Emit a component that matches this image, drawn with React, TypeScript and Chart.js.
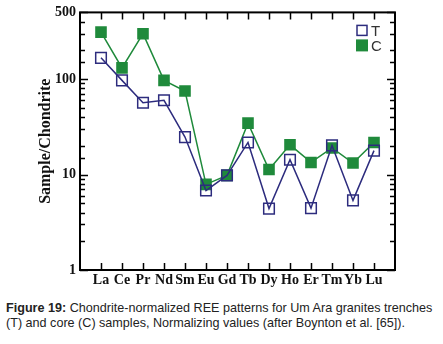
import React, { useEffect, useRef } from 'react';
import { Chart, registerables } from 'chart.js';
Chart.register(...registerables);

const elements = ['La', 'Ce', 'Pr', 'Nd', 'Sm', 'Eu', 'Gd', 'Tb', 'Dy', 'Ho', 'Er', 'Tm', 'Yb', 'Lu'];
const trenchValues = [167, 97, 56.6, 60, 24.7, 6.8, 9.8, 21.7, 4.4, 14.3, 4.45, 20.2, 5.36, 17.8];
const coreValues = [311, 131, 299, 97, 75, 7.9, 9.8, 34.6, 11.3, 20.5, 13.4, 19, 13.2, 21.7];
const yTickLabels = [1, 10, 100, 500];
const seriesNames = ['T', 'C'];

const BLUE = '#2d2c7e';
const GREEN = '#1f8a3b';

const framePlugin = {
  id: 'frame',
  afterDraw(chart: any) {
    const { ctx, chartArea } = chart;
    const { left, right, top, bottom } = chartArea;
    const xs = chart.scales.x;
    const ys = chart.scales.y;
    ctx.save();
    ctx.strokeStyle = '#000';
    ctx.lineWidth = 1.5;
    ctx.beginPath();
    ys.ticks.forEach((t: any) => {
      const y = Math.round(ys.getPixelForValue(t.value)) + 0.5;
      const len = yTickLabels.includes(t.value) ? 8 : 5;
      ctx.moveTo(left, y);
      ctx.lineTo(left + len, y);
      ctx.moveTo(right, y);
      ctx.lineTo(right - len, y);
    });
    elements.forEach((_, i) => {
      const x = Math.round(xs.getPixelForValue(i + 1)) + 0.5;
      ctx.moveTo(x, top);
      ctx.lineTo(x, top + 7);
      ctx.moveTo(x, bottom);
      ctx.lineTo(x, bottom - 7);
    });
    ctx.stroke();
    ctx.lineWidth = 2;
    ctx.strokeRect(left, top, right - left, bottom - top);

    // legend
    const lx = right - 33;
    const colors = [BLUE, GREEN];
    seriesNames.forEach((name, i) => {
      const cy = top + 18 + i * 15;
      if (i === 0) {
        ctx.strokeStyle = BLUE;
        ctx.lineWidth = 1.5;
        ctx.strokeRect(lx - 5, cy - 5, 10, 10);
      } else {
        ctx.fillStyle = colors[i];
        ctx.fillRect(lx - 6, cy - 6, 12, 12);
      }
      ctx.fillStyle = '#333';
      ctx.font = '15px "Liberation Sans", Arial, sans-serif';
      ctx.textBaseline = 'middle';
      ctx.textAlign = 'left';
      ctx.fillText(name, lx + 9, cy + 1);
    });
    ctx.restore();
  },
};

export default function App() {
  const ref = useRef<HTMLCanvasElement>(null);
  useEffect(() => {
    if (!ref.current) return;
    const chart = new Chart(ref.current, {
      type: 'line',
      data: {
        datasets: [
          {
            label: seriesNames[0],
            data: trenchValues.map((v, i) => ({ x: i + 1, y: v })),
            borderColor: BLUE,
            backgroundColor: 'rgba(0,0,0,0)',
            borderWidth: 1.5,
            pointStyle: 'rect',
            pointRadius: 7.5,
            pointBorderWidth: 1.5,
            pointBorderColor: BLUE,
            pointBackgroundColor: 'rgba(0,0,0,0)',
            tension: 0,
          },
          {
            label: seriesNames[1],
            data: coreValues.map((v, i) => ({ x: i + 1, y: v })),
            borderColor: GREEN,
            backgroundColor: GREEN,
            borderWidth: 1.5,
            pointStyle: 'rect',
            pointRadius: 8.2,
            pointBorderWidth: 0,
            pointBackgroundColor: GREEN,
            tension: 0,
          },
        ],
      },
      options: {
        animation: false,
        responsive: false,
        maintainAspectRatio: false,
        layout: { padding: { left: 36, right: 48, top: 10, bottom: 0 } },
        plugins: { legend: { display: false }, tooltip: { enabled: false } },
        scales: {
          x: {
            type: 'linear',
            min: 0,
            max: 15,
            grid: { display: false, drawTicks: false },
            border: { display: false },
            afterFit: (s: any) => { s.height = 20; },
            ticks: {
              stepSize: 1,
              autoSkip: false,
              maxRotation: 0,
              padding: 2,
              color: '#111',
              font: { family: '"Liberation Serif", "Times New Roman", serif', size: 14, weight: 'bold' },
              callback: (v: any) => elements[Number(v) - 1] ?? '',
            },
          },
          y: {
            type: 'logarithmic',
            min: 1,
            max: 500,
            grid: { display: false, drawTicks: false },
            border: { display: false },
            afterFit: (s: any) => { s.width = 44; },
            title: {
              display: true,
              text: 'Sample/Chondrite',
              color: '#111',
              padding: 0,
              font: { family: '"Liberation Serif", "Times New Roman", serif', size: 16, weight: 'bold' },
            },
            ticks: {
              autoSkip: false,
              padding: 4,
              color: '#111',
              font: { family: '"Liberation Serif", "Times New Roman", serif', size: 14, weight: 'bold' },
              callback: (v: any) => (yTickLabels.includes(Number(v)) ? String(v) : ''),
            },
          },
        },
      },
      plugins: [framePlugin],
    } as any);
    return () => chart.destroy();
  }, []);

  return (
    <div style={{ position: 'fixed', left: 0, top: 0, width: 443, height: 344, background: '#fff' }}>
      <canvas ref={ref} width={443} height={290} style={{ display: 'block', width: 443, height: 290 }} />
      <div
        style={{
          position: 'absolute',
          left: 6,
          top: 301,
          fontFamily: '"Liberation Sans", Arial, sans-serif',
          fontSize: 12.6,
          lineHeight: '15px',
          color: '#222',
          whiteSpace: 'nowrap',
        }}
      >
        <b>Figure 19:</b> Chondrite-normalized REE patterns for Um Ara granites trenches
        <br />
        (T) and core (C) samples, Normalizing values (after Boynton et al. [65]).
      </div>
    </div>
  );
}
